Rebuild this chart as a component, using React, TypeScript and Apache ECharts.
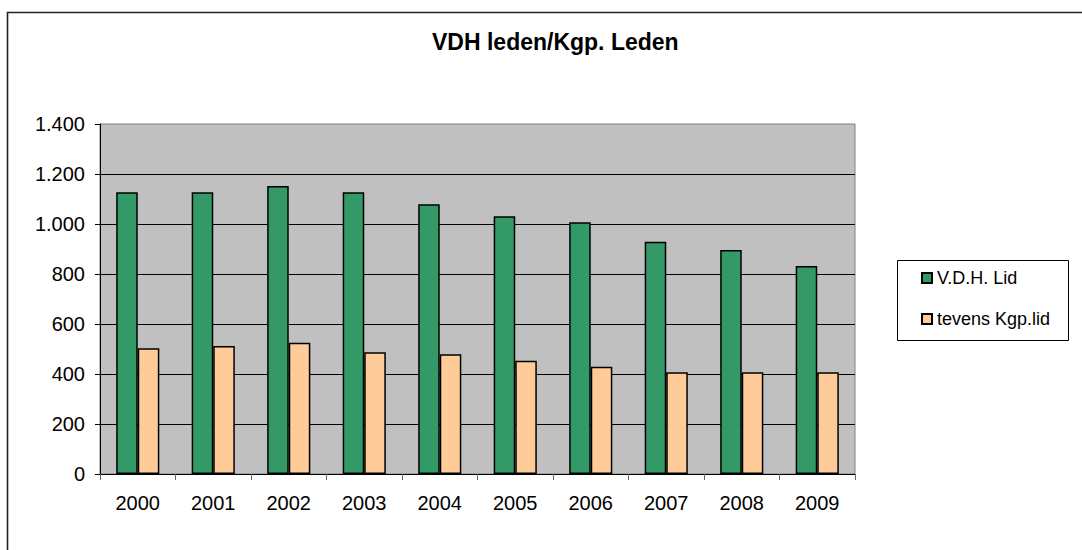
import React, { useEffect, useRef } from "react";
import * as echarts from "echarts";

const years = ["2000", "2001", "2002", "2003", "2004", "2005", "2006", "2007", "2008", "2009"];
const vdhLid = [1127, 1127, 1152, 1127, 1079, 1031, 1007, 929, 896, 832];
const kgpLid = [503, 512, 525, 487, 479, 453, 429, 407, 407, 407];
const seriesNames = ["V.D.H. Lid", "tevens Kgp.lid"];
const titleText = "VDH leden/Kgp. Leden";

const FONT = "'Liberation Sans', Arial, sans-serif";

function fmt(v: number): string {
  if (v >= 1000) {
    return Math.floor(v / 1000) + "." + String(v % 1000).padStart(3, "0");
  }
  return String(v);
}

export default function App() {
  const ref = useRef<HTMLDivElement>(null);
  useEffect(() => {
    document.body.style.margin = "0";
    if (!ref.current) return;
    const chart = echarts.init(ref.current, undefined, { renderer: "svg" });
    chart.setOption({
      animation: false,
      backgroundColor: "#ffffff",
      title: {
        text: titleText,
        left: 432,
        top: 30,
        padding: 0,
        textStyle: { fontFamily: FONT, fontSize: 23, fontWeight: "bold", color: "#000" },
      },
      graphic: [
        {
          type: "rect",
          shape: { x: 7.5, y: 12.5, width: 1120, height: 620 },
          style: { fill: "none", stroke: "#222", lineWidth: 1.6 },
          silent: true,
          z: 100,
        },
        {
          type: "rect",
          shape: { x: 897.5, y: 260.5, width: 171, height: 80 },
          style: { fill: "none", stroke: "#000", lineWidth: 1 },
          silent: true,
          z: 100,
        },
      ],
      legend: {
        orient: "vertical",
        left: 921,
        top: 269,
        padding: 0,
        itemWidth: 10,
        itemHeight: 10,
        itemGap: 23,
        icon: "rect",
        data: seriesNames,
        textStyle: { fontFamily: FONT, fontSize: 18, color: "#000", padding: [0, 0, 0, 0] },
      },
      grid: {
        left: 100,
        top: 124,
        width: 755,
        height: 350,
        show: true,
        backgroundColor: "#C0C0C0",
        borderColor: "#808080",
        borderWidth: 1,
      },
      xAxis: {
        type: "category",
        data: years,
        axisLine: { show: true, lineStyle: { color: "#000", width: 1 } },
        axisTick: { show: true, alignWithLabel: false, length: 6, lineStyle: { color: "#666" } },
        axisLabel: { fontFamily: FONT, fontSize: 20, color: "#000", margin: 19 },
        splitLine: { show: false },
      },
      yAxis: {
        type: "value",
        min: 0,
        max: 1400,
        interval: 200,
        axisLine: { show: true, lineStyle: { color: "#000", width: 1 } },
        axisTick: { show: true, length: 5, lineStyle: { color: "#000" } },
        axisLabel: {
          fontFamily: FONT,
          fontSize: 20,
          color: "#000",
          margin: 15,
          formatter: (v: number) => fmt(v),
        },
        splitLine: {
          show: true,
          showMinLine: false,
          showMaxLine: false,
          lineStyle: { color: "#000", width: 1 },
        },
      },
      series: [
        {
          name: seriesNames[0],
          type: "bar",
          data: vdhLid,
          barGap: "0%",
          barCategoryGap: "42.9%",
          itemStyle: { color: "#339966", borderColor: "#000", borderWidth: 1.5 },
        },
        {
          name: seriesNames[1],
          type: "bar",
          data: kgpLid,
          barGap: "0%",
          barCategoryGap: "42.9%",
          itemStyle: { color: "#FFCC99", borderColor: "#000", borderWidth: 1.5 },
        },
      ],
    });
    return () => chart.dispose();
  }, []);
  return <div ref={ref} style={{ width: 1082, height: 550 }} />;
}
